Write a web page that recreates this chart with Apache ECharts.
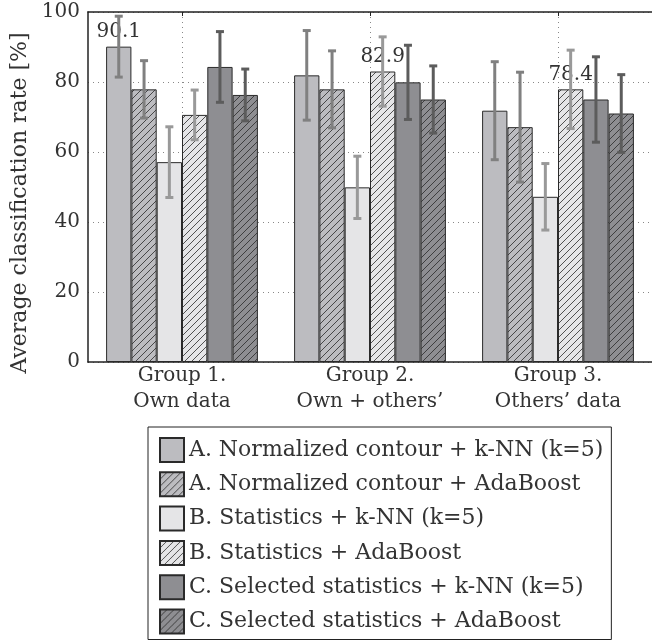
<!DOCTYPE html>
<html><head><meta charset="utf-8">
<script src="https://cdn.jsdelivr.net/npm/echarts@6/dist/echarts.min.js"></script>
<style>html,body{margin:0;padding:0;background:#fff}#c{width:652px;height:641px}</style>
</head><body><div id="c"></div>
<script>
// ---- data ----
const categories = ['Group 1.\nOwn data', 'Group 2.\nOwn + others\u2019', 'Group 3.\nOthers\u2019 data'];
const seriesNames = [
  'A. Normalized contour + k-NN (k=5)',
  'A. Normalized contour + AdaBoost',
  'B. Statistics + k-NN (k=5)',
  'B. Statistics + AdaBoost',
  'C. Selected statistics + k-NN (k=5)',
  'C. Selected statistics + AdaBoost'
];
const aKnn = [90.1, 81.9, 71.8];
const aAda = [77.9, 77.9, 67.1];
const bKnn = [57.1, 49.9, 47.2];
const bAda = [70.6, 83.0, 77.9];
const cKnn = [84.3, 79.9, 75.0];
const cAda = [76.3, 75.0, 71.0];
const aKnnErr = [8.7, 12.8, 14.0];
const aAdaErr = [8.2, 11.0, 15.7];
const bKnnErr = [10.1, 8.9, 9.5];
const bAdaErr = [7.1, 9.9, 11.2];
const cKnnErr = [10.1, 10.6, 12.2];
const cAdaErr = [7.4, 9.6, 11.1];
const aKnnLabels = ['90.1', '', ''];
const aAdaLabels = ['', '', ''];
const bKnnLabels = ['', '', ''];
const bAdaLabels = ['', '82.9', '78.4'];
const cKnnLabels = ['', '', ''];
const cAdaLabels = ['', '', ''];
const yTicks = [0, 20, 40, 60, 80, 100];

// ---- styling ----
const FONT = 'DejaVu Serif';
const BAR_W = 25.3;
const fills = ['#bcbcc0', '#bcbcc0', '#e5e5e7', '#e5e5e7', '#8e8e92', '#8e8e92'];
const hatched = [false, true, false, true, false, true];
const errColors = ['#808080', '#808080', '#999999', '#999999', '#5c5c5c', '#5c5c5c'];

function hatch(bg) {
  const s = 7;
  const c = document.createElement('canvas'); c.width = s; c.height = s;
  const g = c.getContext('2d');
  g.fillStyle = bg; g.fillRect(0, 0, s, s);
  g.strokeStyle = '#2a2a2a'; g.lineWidth = 0.8;
  g.beginPath();
  g.moveTo(0, s); g.lineTo(s, 0);
  g.moveTo(-s, s); g.lineTo(s, -s);
  g.moveTo(0, 2 * s); g.lineTo(2 * s, 0);
  g.stroke();
  return { image: c, repeat: 'repeat' };
}

const values = [aKnn, aAda, bKnn, bAda, cKnn, cAda];
const errs = [aKnnErr, aAdaErr, bKnnErr, bAdaErr, cKnnErr, cAdaErr];
const labels = [aKnnLabels, aAdaLabels, bKnnLabels, bAdaLabels, cKnnLabels, cAdaLabels];

const series = values.map((vals, si) => ({
  type: 'bar',
  name: seriesNames[si],
  barWidth: BAR_W,
  barGap: '0%',
  z: 2,
  itemStyle: {
    color: hatched[si] ? hatch(fills[si]) : fills[si],
    borderColor: '#2a2a2a',
    borderWidth: 1
  },
  data: vals.map((v, ci) => ({
    value: v,
    label: {
      show: !!labels[si][ci],
      position: 'top',
      distance: 5,
      formatter: labels[si][ci],
      fontFamily: FONT,
      fontSize: 20,
      color: '#333'
    }
  }))
}));

const errData = [];
values.forEach((vals, si) => vals.forEach((v, ci) => errData.push([ci, v, errs[si][ci], si])));

series.push({
  type: 'custom',
  name: 'err',
  z: 10,
  silent: true,
  data: errData,
  encode: { x: 0, y: 1 },
  renderItem(params, api) {
    const ci = api.value(0), v = api.value(1), e = api.value(2), si = api.value(3);
    const off = (si - 2.5) * BAR_W;
    const top = api.coord([ci, v + e]);
    const bot = api.coord([ci, v - e]);
    const x = top[0] + off;
    const st = { stroke: errColors[si], lineWidth: 3 };
    return {
      type: 'group',
      children: [
        { type: 'line', shape: { x1: x, y1: top[1], x2: x, y2: bot[1] }, style: st },
        { type: 'line', shape: { x1: x - 4, y1: top[1], x2: x + 4, y2: top[1] }, style: st },
        { type: 'line', shape: { x1: x - 4, y1: bot[1], x2: x + 4, y2: bot[1] }, style: st }
      ]
    };
  }
});

const chart = echarts.init(document.getElementById('c'), null, { renderer: 'canvas' });
chart.setOption({
  animation: false,
  backgroundColor: '#fff',
  grid: { left: 88, top: 12, height: 350, right: -3 },
  legend: {
    data: seriesNames,
    orient: 'vertical',
    left: 148,
    top: 427,
    height: 198,
    padding: [10, 8, 5, 11],
    itemWidth: 24,
    itemHeight: 24,
    itemGap: 8.3,
    borderColor: '#222',
    borderWidth: 1,
    icon: 'rect',
    textStyle: { fontFamily: FONT, fontSize: 22, lineHeight: 24, color: '#333' }
  },
  xAxis: [{
    type: 'category',
    data: categories,
    axisLine: { lineStyle: { color: '#222', width: 1.5 } },
    axisTick: { show: false },
    splitLine: { show: true, alignWithLabel: true, lineStyle: { color: '#888', type: [1, 4], width: 1 } },
    axisLabel: { interval: 0, fontFamily: FONT, fontSize: 20, color: '#333', lineHeight: 26, margin: 1 }
  }, {
    type: 'category',
    data: categories,
    position: 'top',
    axisLine: { lineStyle: { color: '#222', width: 1.5 } },
    axisTick: { show: true, inside: true, alignWithLabel: true, length: 4, lineStyle: { color: '#222' } },
    axisLabel: { show: false },
    splitLine: { show: false }
  }],
  yAxis: {
    type: 'value',
    min: yTicks[0],
    max: yTicks[yTicks.length - 1],
    interval: yTicks[1] - yTicks[0],
    name: 'Average classification rate [%]',
    nameLocation: 'middle',
    nameGap: 57,
    nameTextStyle: { fontFamily: FONT, fontSize: 22, color: '#333', padding: [0, 32, 0, 0] },
    axisLine: { show: true, lineStyle: { color: '#222', width: 1.5 } },
    axisTick: { show: false },
    splitLine: { show: true, lineStyle: { color: '#888', type: [1, 4], width: 1 } },
    axisLabel: { fontFamily: FONT, fontSize: 20, color: '#333', margin: 8 }
  },
  series
});
</script>
</body></html>
